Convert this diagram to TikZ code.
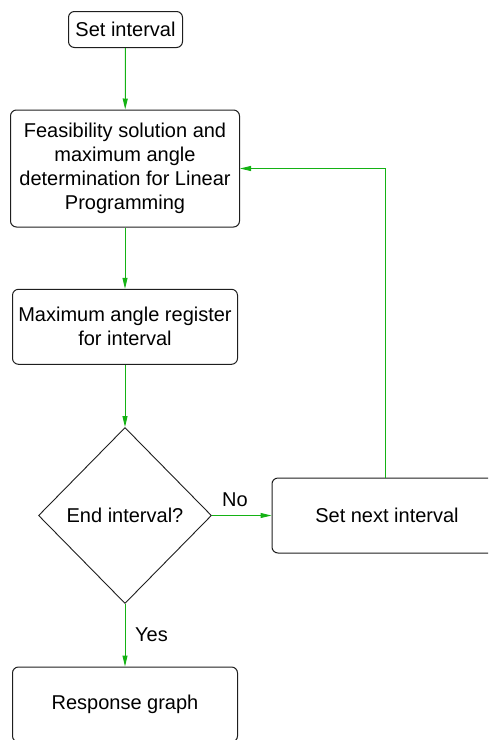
\documentclass[tikz,border=0pt]{standalone}
\usepackage{fontspec}
\setmainfont{Liberation Sans}
\usetikzlibrary{shapes.geometric,arrows.meta}
\definecolor{flowgreen}{RGB}{20,178,20}
\definecolor{edgegrey}{RGB}{30,30,30}
\begin{document}
\begin{tikzpicture}[x=1pt,y=-1pt,
  every node/.style={font=\fontsize{20}{24}\selectfont, text=black},
  procbox/.style={draw=edgegrey, line width=1pt, rounded corners=6pt,
    rectangle, align=center, inner sep=0pt},
  decision/.style={draw=edgegrey, line width=0.9pt, diamond, inner sep=0pt,
    minimum width=173pt, minimum height=176pt},
  link/.style={draw=flowgreen, line width=1pt,
    -{Triangle[length=11pt,width=5pt]}},
  tag/.style={inner sep=0pt}]
  \useasboundingbox (0,0) rectangle (488,740);
  \clip (0,0) rectangle (488,740);

  % process steps
  \node[procbox, minimum width=114pt, minimum height=36pt] (start) at (125.5,29.5) {Set interval};
  \node[procbox, minimum width=229pt, minimum height=117pt] (solve) at (125,168.5)
    {Feasibility solution and\\maximum angle\\determination for Linear\\Programming};
  \node[procbox, minimum width=225pt, minimum height=75pt] (reg) at (125,326.8)
    {Maximum angle register\\for interval};
  \node[decision] (check) at (125,515.5) {End interval?};
  \node[procbox, minimum width=230pt, minimum height=75pt] (next) at (387,515.5) {Set next interval};
  \node[procbox, minimum width=225pt, minimum height=75pt] (resp) at (125,704.5) {Response graph};

  % connectors
  \draw[link] (start) -- (solve);
  \draw[link] (solve) -- (reg);
  \draw[link] (reg) -- (check.north);
  \draw[link] (check.east) -- (next.west);
  \draw[link] (check.south) -- (resp);
  \coordinate (bend) at (385,168.5);
  \draw[link] (next.north -| bend) -- (bend) -- (solve.east |- bend);

  % branch labels
  \node[tag] (nolabel) at (235,500) {No};
  \node[tag] (yeslabel) at (151.5,635) {Yes};
\end{tikzpicture}
\end{document}
